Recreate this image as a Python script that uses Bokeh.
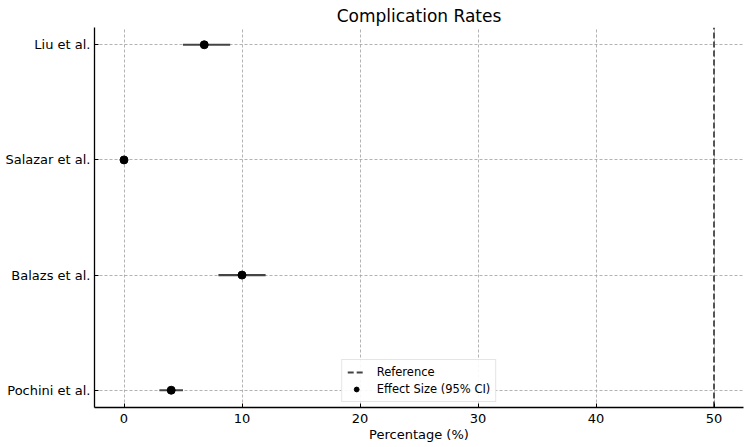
from bokeh.plotting import figure
from bokeh.models import (ColumnDataSource, Range1d, FixedTicker, Legend, LegendItem)
from bokeh.embed import file_html
from bokeh.resources import INLINE

# Studies listed bottom to top
studies = ["Pochini et al.", "Balazs et al.", "Salazar et al.", "Liu et al."]
effect = [4.0, 10.0, 0.0, 6.8]
ci_low = [3.0, 8.0, 0.0, 5.0]
ci_high = [5.0, 12.0, 0.0, 9.0]
reference_value = 50

FONT = "DejaVu Sans"

pos = list(range(len(studies)))
src = ColumnDataSource(dict(y=pos, x=effect, lo=ci_low, hi=ci_high, name=studies))

y_lo, y_hi = -0.15, len(studies) - 1 + 0.15
p = figure(width=750, height=447, output_backend="svg", toolbar_location=None,
           x_range=Range1d(-2.5, 52.5), y_range=Range1d(y_lo, y_hi),
           title="Complication Rates")
p.min_border_left = 94
p.min_border_right = 7
p.min_border_top = 27
p.min_border_bottom = 40
p.background_fill_color = "white"
p.border_fill_color = "white"
p.outline_line_color = None

p.title.text_font = FONT
p.title.text_font_size = "17px"
p.title.text_font_style = "normal"
p.title.align = "center"
p.title.text_color = "black"
p.title.standoff = 3

# Axes
p.xaxis.axis_label = "Percentage (%)"
p.xaxis.ticker = FixedTicker(ticks=[0, 10, 20, 30, 40, 50])
p.yaxis.ticker = FixedTicker(ticks=pos)
p.yaxis.major_label_overrides = {i: s for i, s in enumerate(studies)}
for ax in (p.xaxis[0], p.yaxis[0]):
    ax.axis_line_color = "black"
    ax.axis_line_width = 1.3
    ax.major_tick_in = 4
    ax.major_tick_out = 0
    ax.minor_tick_line_color = None
    ax.major_label_text_font = FONT
    ax.major_label_text_font_size = "13px"
    ax.major_label_text_color = "black"
    ax.axis_label_text_font = FONT
    ax.axis_label_text_font_size = "13px"
    ax.axis_label_text_font_style = "normal"
    ax.axis_label_text_color = "black"
p.xaxis.major_label_standoff = 6
p.yaxis.major_label_standoff = 4
p.xaxis.axis_label_standoff = 1

# Grid
for g in (p.xgrid[0], p.ygrid[0]):
    g.grid_line_color = "#a0a0a0"
    g.grid_line_dash = "3 2"
    g.grid_line_width = 0.8

# Reference line across the full vertical extent
ref = p.line(x=[reference_value, reference_value], y=[y_lo, y_hi],
             line_color="#444444", line_dash="6 3", line_width=1.8)

# Confidence intervals and point estimates
bars = p.segment(x0="lo", y0="y", x1="hi", y1="y", source=src,
                 line_color="#444444", line_width=2.2)
dots = p.scatter(x="x", y="y", source=src, size=8, fill_color="black",
                 line_color="black")

legend = Legend(items=[LegendItem(label="Reference", renderers=[ref]),
                       LegendItem(label="Effect Size (95% CI)", renderers=[dots])],
                location="bottom_center")
legend.label_text_font = FONT
legend.label_text_font_size = "11.5px"
legend.label_text_color = "black"
legend.border_line_color = "#cccccc"
legend.border_line_width = 1
legend.background_fill_alpha = 0.9
legend.glyph_width = 18
legend.glyph_height = 12
legend.spacing = 3
legend.padding = 5
legend.margin = 5
legend.label_standoff = 12
legend.label_height = 12
p.add_layout(legend)

open("out.html", "w").write(file_html(p, INLINE))
